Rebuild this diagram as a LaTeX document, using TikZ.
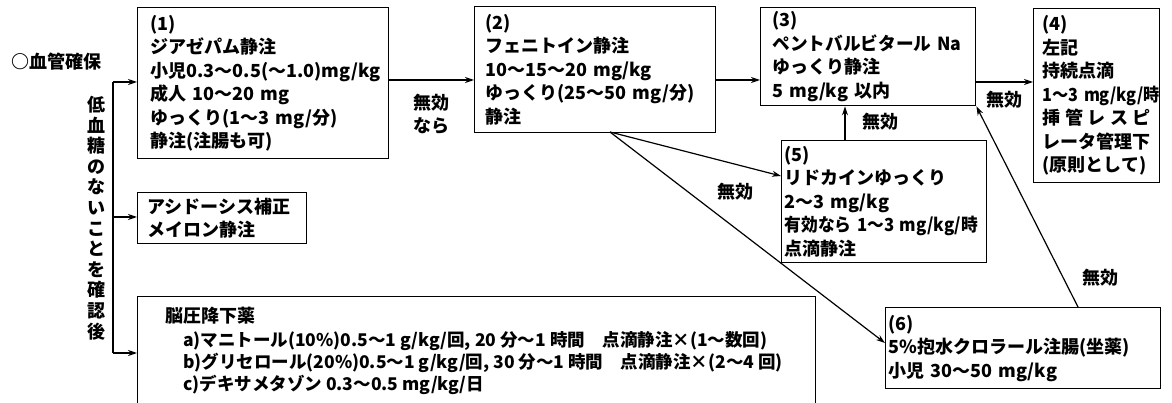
\documentclass[tikz,border=0pt]{standalone}
\usepackage{fontspec}
\setmainfont{Noto Sans CJK JP}
\usetikzlibrary{arrows.meta}
\newcommand{\tx}{\bfseries\fontsize{18}{23.5}\selectfont}
\newcommand{\sqz}[2]{\scalebox{#1}[1]{#2}}
\begin{document}
\begin{tikzpicture}[x=1pt,y=-1pt,
  every node/.style={font=\tx, inner sep=0pt},
  box/.style={draw, line width=1.4pt, anchor=north west, align=left, inner ysep=0pt},
  arr/.style={line width=1.2pt, -{Stealth[length=9pt,width=6pt]}},
  ln/.style={line width=1.2pt}]
\useasboundingbox (0,0) rectangle (1172,403);

% boxes
\node[box, minimum width=251, minimum height=151, inner xsep=13, text width=225] (b1) at (137,7)
 {(1)\\ジアゼパム静注\\\mbox{小児0.3〜0.5(〜1.0)mg/kg}\\成人 10〜20 mg\\ゆっくり(1〜3 mg/分)\\静注(注腸も可)};
\node[box, minimum width=241, minimum height=126, inner xsep=11, text width=219] (b2) at (474,6)
 {(2)\\フェニトイン静注\\10〜15〜20 mg/kg\\\mbox{ゆっくり(25〜50 mg/分)}\\静注};
\node[box, minimum width=215, minimum height=98, inner xsep=12, text width=191] (b3) at (760,7)
 {(3)\\\mbox{\sqz{0.98}{ペントバルビタール Na}}\\ゆっくり静注\\5 mg/kg 以内};
\node[box, minimum width=126, minimum height=174, inner xsep=9, text width=108] (b4) at (1033,8)
 {(4)\\左記\\持続点滴\\\mbox{\sqz{0.9}{1〜3 mg/kg/時}}\\\makebox[108pt][s]{挿\hfill 管\hfill レ\hfill ス\hfill ピ}\\\mbox{レータ管理下}\\\mbox{(原則として)}};
\node[box, minimum width=205, minimum height=122, inner xsep=3, text width=199] (b5) at (781,140)
 {(5)\\リドカインゆっくり\\2〜3 mg/kg\\\mbox{\sqz{0.93}{有効なら 1〜3 mg/kg/時}}\\点滴静注};
\node[box, minimum width=275, minimum height=81, inner xsep=3, text width=269] (b6) at (885,307)
 {(6)\\\mbox{5\%抱水クロラール注腸(坐薬)}\\小児 30〜50 mg/kg};
\node[box, minimum width=169, minimum height=51, inner xsep=10, text width=149] (acid) at (137,192)
 {アシドーシス補正\\メイロン静注};
\node[box, minimum width=678, minimum height=130] (brain) at (137,296) {};
\node[anchor=west] (bh) at (165,316) {脳圧降下薬};
\node[anchor=west, align=left, font=\bfseries\fontsize{17.5}{22}\selectfont] (bl) at (183,363)
 {a)マニトール(10\%)0.5〜1 g/kg/回, 20 分〜1 時間　点滴静注×(1〜数回)\\
  b)グリセロール(20\%)0.5〜1 g/kg/回, 30 分〜1 時間　点滴静注×(2〜4 回)\\
  c)デキサメタゾン 0.3〜0.5 mg/kg/日};

% left side
\node (iv) at (56,62) {○血管確保};
\node[align=center, font=\bfseries\fontsize{18}{20.6}\selectfont] (vt) at (96,218)
 {低\\血\\糖\\の\\な\\い\\こ\\と\\を\\確\\認\\後};
\coordinate (top) at (113,82);
\coordinate (mid) at (113,217);
\coordinate (bot) at (113,353);
\draw[ln] (top) -- (bot);
\draw[arr] (top) -- (b1.west |- top);
\draw[arr] (mid) -- (acid.west |- mid);
\draw[arr] (bot) -- (brain.west |- bot);

% flow arrows
\draw[arr] (b1.east |- 0,80) -- (b2.west |- 0,80);
\draw[arr] (b2.east |- 0,80) -- (b3.west |- 0,80);
\draw[arr] (b3.east |- 0,82) -- (b4.west |- 0,82);
\draw[arr] (b5.north -| 845,0) -- (b3.south -| 845,0);
\coordinate (s2) at (610,132);
\draw[arr] (s2) -- (b5.west |- 0,176);
\draw[arr] (s2) -- (b6.west |- 0,343);
\draw[arr] (b6.north -| 1078,0) -- (b3.south east);

% labels
\node[align=center] (l1) at (431,114) {無効\\なら};
\node (l2) at (1004,100) {無効};
\node (l3) at (880,122) {無効};
\node (l4) at (735,192) {無効};
\node (l5) at (1100,278) {無効};
\end{tikzpicture}
\end{document}
